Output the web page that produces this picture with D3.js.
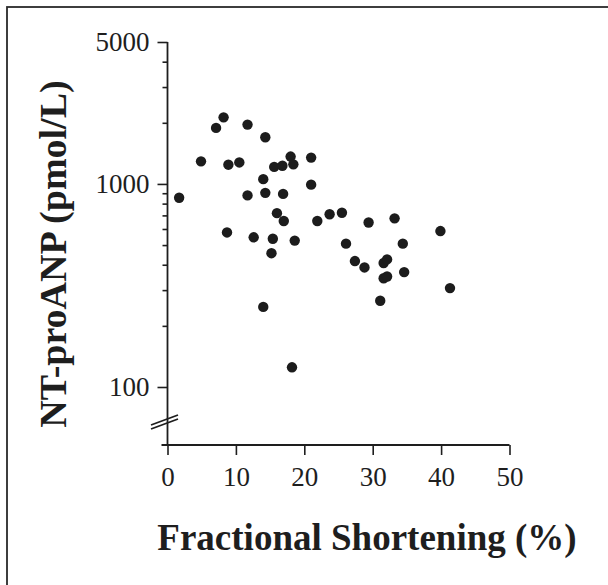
<!DOCTYPE html>
<html>
<head>
<meta charset="utf-8">
<script src="https://cdn.jsdelivr.net/npm/d3@7"></script>
<style>
  body { margin: 0; background: #fff; }
  .axis text { font-family: "Liberation Serif", "Times New Roman", serif; font-size: 27px; fill: #1e1e1e; }
  .axis line { stroke: #1e1e1e; stroke-width: 1.6px; }
</style>
</head>
<body>
<script>

  // fractional shortening (%) and NT-proANP (pmol/L)
  var fs = [1.7, 4.9, 7.1, 8.2, 8.9, 8.7, 10.5, 11.7, 11.7, 12.6,
            14.3, 14.0, 14.3, 14.0, 15.6, 16.8, 18.0, 18.4, 16.9, 16.0,
            17.0, 15.4, 15.2, 18.6, 18.2, 21.0, 21.0, 21.9, 23.7, 25.5,
            26.1, 27.4, 28.8, 29.4, 33.2, 31.1, 31.6, 32.1, 31.6, 32.1,
            34.4, 34.6, 39.9, 41.3];
  var ntproanp = [855, 1292, 1888, 2128, 1244, 577, 1276, 1960, 878, 546,
                  1698, 1056, 904, 248, 1213, 1229, 1364, 1249, 893, 718,
                  657, 537, 456, 526, 125, 1348, 992, 657, 709, 721,
                  508, 417, 388, 646, 677, 266, 408, 425, 343, 350,
                  508, 368, 586, 307];

  var xTicks = [0, 10, 20, 30, 40, 50];
  var yMajor = [100, 1000, 5000];
  var yMinor = [200, 300, 400, 500, 600, 700, 800, 900, 2000, 3000, 4000];

  var w = 608;
  var h = 585;
  var xAxisY = 445;

  var svg = d3.select("body")
              .append("svg")
              .attr("width", w)
              .attr("height", h);

  // frame (right and bottom edges fall off the picture)
  svg.append("rect")
     .attr("x", 7)
     .attr("y", 7)
     .attr("width", 610)
     .attr("height", 590)
     .attr("fill", "none")
     .attr("stroke", "#2a2a2a")
     .attr("stroke-width", 1.8);

  var xScale = d3.scaleLinear()
                 .domain([0, 50])
                 .range([167.5, 509.5]);

  var yScale = d3.scaleLog()
                 .domain([100, 5000])
                 .range([387, 42]);

  // x axis
  var gx = svg.append("g")
              .attr("class", "axis")
              .attr("transform", "translate(0," + xAxisY + ")")
              .call(d3.axisBottom(xScale)
                .tickValues(xTicks)
                .tickSize(10)
                .tickPadding(12)
                .tickSizeOuter(0));
  gx.select(".domain").remove();

  svg.append("line")
     .attr("x1", xScale(0) - 6)
     .attr("x2", xScale(50))
     .attr("y1", xAxisY)
     .attr("y2", xAxisY)
     .attr("stroke", "#1e1e1e")
     .attr("stroke-width", 1.8);

  // y axis, minor then major ticks
  var gyMinor = svg.append("g")
                   .attr("class", "axis")
                   .attr("transform", "translate(" + xScale(0) + ",0)")
                   .call(d3.axisLeft(yScale)
                     .tickValues(yMinor)
                     .tickSize(5)
                     .tickFormat(""));
  gyMinor.select(".domain").remove();

  var gy = svg.append("g")
              .attr("class", "axis")
              .attr("transform", "translate(" + xScale(0) + ",0)")
              .call(d3.axisLeft(yScale)
                .tickValues(yMajor)
                .tickSize(10)
                .tickPadding(8)
                .tickFormat(d3.format("d")));
  gy.select(".domain").remove();

  svg.append("line")
     .attr("x1", xScale(0))
     .attr("x2", xScale(0))
     .attr("y1", yScale(5000))
     .attr("y2", xAxisY)
     .attr("stroke", "#1e1e1e")
     .attr("stroke-width", 1.8);

  // axis break marks
  [0, 4].forEach(function(off){
    svg.append("line")
       .attr("x1", 151)
       .attr("y1", 425 + off)
       .attr("x2", 178)
       .attr("y2", 415 + off)
       .attr("stroke", "#1e1e1e")
       .attr("stroke-width", 1.8);
  });

  // points
  svg.selectAll("circle")
     .data(fs)
     .enter()
     .append("circle")
     .attr("cx", function(d){
       return xScale(d);
     })
     .attr("cy", function(d, i){
       return yScale(ntproanp[i]);
     })
     .attr("r", 5.2)
     .attr("fill", "#1c1c1c");

  // axis titles
  svg.append("text")
     .text("Fractional Shortening (%)")
     .attr("x", 367)
     .attr("y", 550)
     .attr("text-anchor", "middle")
     .attr("font-family", "Liberation Serif, Times New Roman, serif")
     .attr("font-weight", "bold")
     .attr("font-size", "37px")
     .attr("fill", "#1e1e1e");

  svg.append("text")
     .text("NT-proANP (pmol/L)")
     .attr("transform", "translate(66,254) rotate(-90)")
     .attr("text-anchor", "middle")
     .attr("font-family", "Liberation Serif, Times New Roman, serif")
     .attr("font-weight", "bold")
     .attr("font-size", "38px")
     .attr("fill", "#1e1e1e");

</script>
</body>
</html>
